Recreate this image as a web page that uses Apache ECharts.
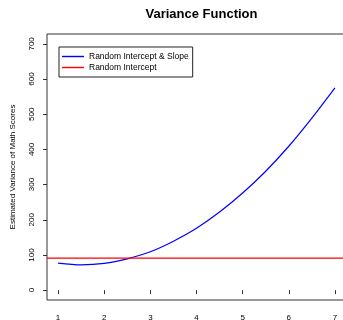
<!DOCTYPE html>
<html>
<head>
<meta charset="utf-8">
<script src="https://cdn.jsdelivr.net/npm/echarts@6/dist/echarts.min.js"></script>
<style>html,body{margin:0;padding:0;background:#fff}#c{width:343px;height:320px}</style>
</head>
<body>
<div id="c"></div>
<script>
// Data
var xValues = [1, 1.5, 2, 2.5, 3, 3.5, 4, 4.5, 5, 5.5, 6, 6.5, 7];
var slopeVariance = [77, 72, 76, 89, 109, 139, 176, 222, 276, 338, 409, 489, 575];
var interceptVariance = 91;
var xTicks = [1, 2, 3, 4, 5, 6, 7];
var yTicks = [0, 100, 200, 300, 400, 500, 600, 700];
var seriesNames = ['Random Intercept & Slope', 'Random Intercept'];
var xLimits = [0.76, 7.24];
var yLimits = [-28, 728];

var font = 'Liberation Sans, Arial, Helvetica, sans-serif';
var axisColor = '#333';

var chart = echarts.init(document.getElementById('c'), null, {renderer: 'canvas'});
chart.setOption({
  animation: false,
  backgroundColor: '#fff',
  title: {
    text: 'Variance Function',
    left: 196.5, top: 3, textAlign: 'center',
    textStyle: {fontFamily: font, fontSize: 13, fontWeight: 'bold', color: '#000'}
  },
  legend: {
    orient: 'vertical',
    left: 59, top: 47,
    data: seriesNames.map(function (n) { return {name: n, icon: 'rect'}; }),
    itemWidth: 22, itemHeight: 1.4, itemGap: 2,
    padding: [5, 4, 5, 3],
    borderColor: '#222', borderWidth: 1,
    textStyle: {fontFamily: font, fontSize: 8.5, color: '#000', padding: [0, 0, 0, 0]}
  },
  grid: {
    left: 47, top: 34, width: 299, height: 266,
    outerBoundsMode: 'none',
    show: true, borderColor: axisColor, borderWidth: 1, containLabel: false
  },
  xAxis: {
    type: 'value', min: xLimits[0], max: xLimits[1],
    axisLine: {show: false},
    splitLine: {show: false},
    axisTick: {show: true, customValues: xTicks, length: 4, lineStyle: {color: axisColor}},
    axisLabel: {customValues: xTicks, margin: 14, fontFamily: font, fontSize: 8, color: '#000'}
  },
  yAxis: {
    type: 'value', min: yLimits[0], max: yLimits[1],
    name: 'Estimated Variance of Math Scores',
    nameLocation: 'middle', nameGap: 30,
    nameTextStyle: {fontFamily: font, fontSize: 8, color: '#000'},
    axisLine: {show: false},
    splitLine: {show: false},
    axisTick: {show: true, customValues: yTicks, length: 4, lineStyle: {color: axisColor}},
    axisLabel: {customValues: yTicks, rotate: 90, margin: 11, fontFamily: font, fontSize: 8, color: '#000'}
  },
  series: [
    {
      name: seriesNames[0], type: 'line', smooth: 0.3, showSymbol: false,
      color: '#0000ff', lineStyle: {width: 1.2, color: '#0000ff'},
      data: xValues.map(function (x, i) { return [x, slopeVariance[i]]; })
    },
    {
      name: seriesNames[1], type: 'line', showSymbol: false,
      color: '#ff0000', lineStyle: {width: 1.2, color: '#ff0000'},
      data: [[xLimits[0], interceptVariance], [xLimits[1], interceptVariance]]
    }
  ]
});
</script>
</body>
</html>
